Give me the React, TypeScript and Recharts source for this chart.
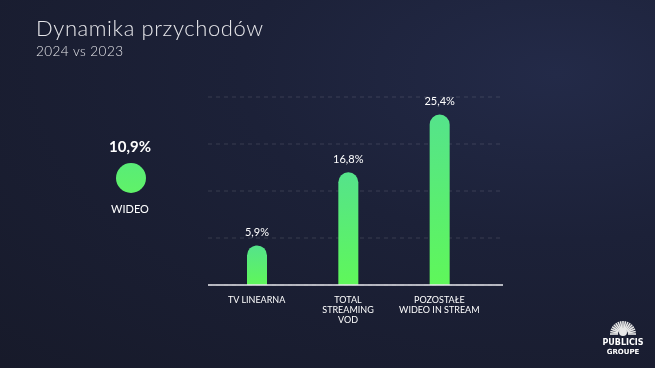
import React from "react";
import { BarChart, Bar, XAxis, YAxis, CartesianGrid, LabelList } from "recharts";

const categories = ["TV LINEARNA", "TOTAL STREAMING VOD", "POZOSTAŁE WIDEO IN STREAM"];
const categoryLines = [["TV LINEARNA"], ["TOTAL", "STREAMING", "VOD"], ["POZOSTAŁE", "WIDEO IN STREAM"]];
const growth = [5.9, 16.8, 25.4];
const yTicks = [0, 7, 14, 21, 28];
const totalLabel = "WIDEO";
const totalValue = 10.9;
const title = "Dynamika przychodów";
const subtitle = "2024 vs 2023";

const data = categories.map((c, i) => ({ name: c, lines: categoryLines[i], value: growth[i] }));

const fmt = (v: number) => v.toFixed(1).replace(".", ",") + "%";
const FONT = "Lato, 'Open Sans', sans-serif";

const Tick = (props: any) => {
  const { x, y, payload, index } = props;
  const lines = categoryLines[index ?? 0] || [payload.value];
  return (
    <g transform={`translate(${x},${y})`}>
      {lines.map((l: string, i: number) => (
        <text key={i} x={0} y={8 + i * 10} textAnchor="middle" fill="#ffffff" fontSize={9} fontFamily={FONT} dominantBaseline="middle">
          {l}
        </text>
      ))}
    </g>
  );
};

const Logo = () => (
  <svg width={60} height={50} style={{ position: "absolute", left: 593, top: 312 }}>
    {Array.from({ length: 17 }).map((_, i) => {
      const a = Math.PI * (i / 16);
      const cx = 30, cy = 22;
      return (
        <line key={i} x1={cx - Math.cos(a) * 5} y1={cy - Math.sin(a) * 5} x2={cx - Math.cos(a) * 13} y2={cy - Math.sin(a) * 13} stroke="#e8e8e8" strokeWidth={1.6} />
      );
    })}
    <circle cx={30} cy={20} r={4} fill="#e8e8e8" />
    <text x={30} y={33} textAnchor="middle" fill="#fff" fontSize={8} fontWeight={700} fontFamily="'DejaVu Sans', sans-serif">PUBLICIS</text>
    <text x={30} y={42} textAnchor="middle" fill="#fff" fontSize={7} fontWeight={700} fontFamily="'DejaVu Sans', sans-serif">GROUPE</text>
  </svg>
);

export default function App() {
  return (
    <div
      style={{
        position: "fixed",
        left: 0,
        top: 0,
        width: 655,
        height: 368,
        overflow: "hidden",
        background: "radial-gradient(ellipse at 85% 20%, #232a48 0%, #1c2138 40%, #171a2a 100%)",
        fontFamily: FONT,
      }}
    >
      <svg width={300} height={70} style={{ position: "absolute", left: 0, top: 0 }}>
        <text x={36} y={36} fill="#e6e6ea" fontSize={22} fontWeight={300} fontFamily={FONT} textLength={227} lengthAdjust="spacing">
          {title}
        </text>
        <text x={36} y={56} fill="#e6e6ea" fontSize={13.5} fontWeight={300} fontFamily={FONT} textLength={87} lengthAdjust="spacing">
          {subtitle}
        </text>
      </svg>

      <div style={{ position: "absolute", left: 90, top: 137, width: 80, textAlign: "center", color: "#fff", fontSize: 15, fontWeight: 700 }}>
        {fmt(totalValue)}
      </div>
      <div style={{ position: "absolute", left: 116, top: 163, width: 30, height: 30, borderRadius: 15, background: "linear-gradient(#59ec78, #60f268)" }} />
      <div style={{ position: "absolute", left: 90, top: 202, width: 80, textAlign: "center", color: "#fff", fontSize: 11 }}>
        {totalLabel}
      </div>

      <div style={{ position: "absolute", left: 0, top: 0 }}>
        <BarChart width={655} height={368} data={data} margin={{ top: 97, left: 208, right: 152, bottom: 23 }}>
          <defs>
            <linearGradient id="barGrad" x1="0" y1="0" x2="0" y2="1">
              <stop offset="0%" stopColor="#55e38b" />
              <stop offset="100%" stopColor="#5ff75a" />
            </linearGradient>
          </defs>
          <CartesianGrid vertical={false} stroke="rgba(255,255,255,0.13)" strokeDasharray="4 4" />
          <YAxis hide domain={[0, 28]} ticks={yTicks} />
          <XAxis
            dataKey="name"
            height={60}
            padding={{ left: 3, right: 18 }}
            axisLine={{ stroke: "#e8e8ee", strokeWidth: 1.5 }}
            tickLine={false}
            interval={0}
            tick={<Tick />}
          />
          <Bar dataKey="value" barSize={20} radius={[10, 10, 0, 0]} fill="url(#barGrad)" isAnimationActive={false}>
            <LabelList dataKey="value" position="top" offset={9} formatter={(v: any) => fmt(Number(v))} fill="#ffffff" fontSize={11} fontFamily={FONT} />
          </Bar>
        </BarChart>
      </div>
      <Logo />
    </div>
  );
}
